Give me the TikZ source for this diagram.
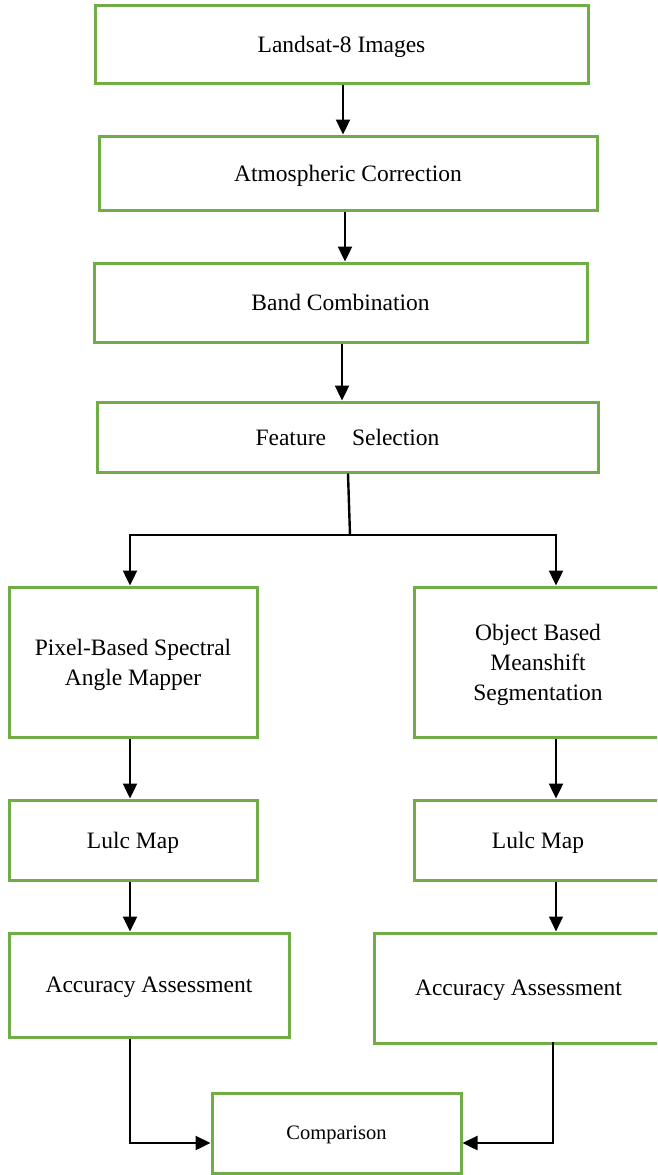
\documentclass[tikz,border=0pt]{standalone}
\usepackage{fontspec}
\setmainfont{Liberation Serif}
\usetikzlibrary{arrows.meta,calc}
\definecolor{boxgreen}{HTML}{70AD47}
\begin{document}
\begin{tikzpicture}[x=1pt,y=-1pt,
  box/.style={draw=boxgreen, line width=3pt, fill=white, align=center, inner sep=0pt,
    text depth=-3pt, font=\fontsize{23.5}{30}\selectfont},
  arr/.style={draw=black, line width=2.4pt, -{Triangle[length=15pt,width=14pt]}},
  thinarr/.style={draw=black, line width=1.2pt, -{Triangle[length=15pt,width=14pt]}},
  ln/.style={draw=black, line width=2.4pt}]
\useasboundingbox (0,0) rectangle (657,1175);
\clip (0,0) rectangle (657,1175);
\fill[white] (0,0) rectangle (657,1175);
% nodes
\node[box, minimum width=493pt, minimum height=78pt] (l8) at (341.5,44) {Landsat-8 Images};
\node[box, minimum width=498pt, minimum height=74pt] (ac) at (348,173) {Atmospheric Correction};
\node[box, minimum width=493pt, minimum height=79pt] (bc) at (340.5,302.5) {Band Combination};
\node[box, minimum width=501pt, minimum height=70pt] (fs) at (347.5,437) {Feature\hspace{26pt}Selection};
\node[box, minimum width=248pt, minimum height=150pt] (pb) at (133,662) {Pixel-Based Spectral\\Angle Mapper};
\node[box, minimum width=248pt, minimum height=150pt] (ob) at (538,662) {Object Based\\Meanshift\\Segmentation};
\node[box, minimum width=248pt, minimum height=80pt] (lm1) at (133,840) {Lulc Map};
\node[box, minimum width=248pt, minimum height=80pt] (lm2) at (538,840) {Lulc Map};
\node[box, minimum width=280pt, minimum height=104pt] (aa1) at (149,985) {Accuracy Assessment};
\node[box, minimum width=289pt, minimum height=110pt] (aa2) at (518.5,988) {Accuracy Assessment};
\node[box, minimum width=249pt, minimum height=80pt, text depth=-2pt, font=\fontsize{20.5}{26}\selectfont] (cmp) at (336.5,1133) {Comparison};
% connectors
\draw[arr] (l8.south -| 343,0) -- (ac.north -| 343,0);
\draw[arr] (ac.south -| 345,0) -- (bc.north -| 345,0);
\draw[arr] (bc.south -| 342,0) -- (fs.north -| 342,0);
\coordinate (split) at (350,535);
\draw[ln] (fs.south -| 348,0) -- (split);
\draw[arr] (split) -| (pb.north -| 130,0);
\draw[arr] (split) -| (ob.north -| 556,0);
\draw[arr] (pb.south -| 130,0) -- (lm1.north -| 130,0);
\draw[arr] (lm1.south -| 130,0) -- (aa1.north -| 130,0);
\draw[arr] (ob.south -| 556,0) -- (lm2.north -| 556,0);
\draw[thinarr] (lm2.south -| 556,0) -- (aa2.north -| 556,0);
\draw[arr] (aa1.south -| 130,0) |- (cmp.west |- 0,1143);
\draw[arr] ($(aa2.south -| 553,0)+(0,-3)$) |- (cmp.east |- 0,1143);
\end{tikzpicture}
\end{document}
